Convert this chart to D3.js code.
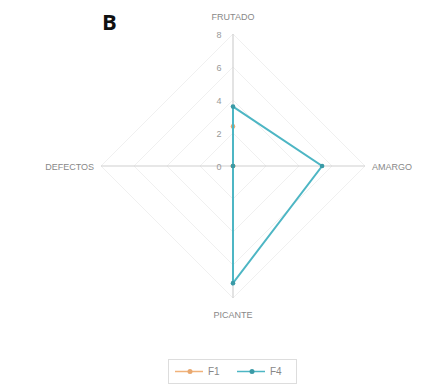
<!DOCTYPE html>
<html><head><meta charset="utf-8">
<script src="https://cdn.jsdelivr.net/npm/d3@7"></script>
<style>body{margin:0;background:#fff}svg{display:block}</style>
</head><body>
<svg id="c" width="439" height="386"></svg>
<script>
const axes = ["FRUTADO","AMARGO","PICANTE","DEFECTOS"];
const ticks = [0,2,4,6,8];
const seriesNames = ["F1","F4"];
const f1Values = [2.4,0,0,0];
const f4Values = [3.6,5.4,7.1,0];
const colors = ["#f0b27a","#4db6c4"];
const markerColors = ["#e8a870","#3a9aa6"];

const svg = d3.select("#c");
const cx = 233, cy = 166, R = 132;
const r = d3.scaleLinear().domain([0,8]).range([0,R]);
const ang = d3.scalePoint().domain(axes).range([0, 2*Math.PI*3/4]);
const pt = (a,v)=>[cx + r(v)*Math.sin(ang(a)), cy - r(v)*Math.cos(ang(a))];

// grid
ticks.slice(1).forEach(t=>{
  svg.append("path").attr("d", d3.line()(axes.map(a=>pt(a,t))) + "Z")
    .attr("fill","none").attr("stroke","#f0f0f0").attr("stroke-width",1);
});
axes.forEach(a=>{
  svg.append("line").attr("x1",cx).attr("y1",cy)
    .attr("x2",pt(a,8)[0]).attr("y2",pt(a,8)[1])
    .attr("stroke","#d0d0d0").attr("stroke-width",1.2);
});
// tick labels
ticks.forEach(t=>{
  svg.append("text").attr("x",cx-14).attr("y",cy - r(t)+3.5)
    .attr("text-anchor","middle").attr("font-family","Liberation Sans, Arial, sans-serif")
    .attr("font-size",9).attr("fill","#999").text(t);
});
// axis labels
const lab = svg.append("g").attr("font-family","Liberation Sans, Arial, sans-serif")
  .attr("font-size",9).attr("fill","#888");
lab.append("text").attr("x",cx).attr("y",20).attr("text-anchor","middle").text(axes[0]);
lab.append("text").attr("x",372).attr("y",cy+3.5).attr("text-anchor","start").text(axes[1]);
lab.append("text").attr("x",cx).attr("y",318).attr("text-anchor","middle").text(axes[2]);
lab.append("text").attr("x",94).attr("y",cy+3.5).attr("text-anchor","end").text(axes[3]);

// series
[f1Values,f4Values].forEach((vals,i)=>{
  const pts = axes.map((a,j)=>pt(a,vals[j]));
  svg.append("path").attr("d", d3.line()(pts)+"Z").attr("fill","none")
    .attr("stroke",colors[i]).attr("stroke-width",2);
  svg.selectAll(null).data(pts).enter().append("circle")
    .attr("cx",d=>d[0]).attr("cy",d=>d[1]).attr("r",2.3)
    .attr("fill", markerColors[i]);
});

// title letter
svg.append("text").attr("x",102).attr("y",30).attr("font-family","Open Sans, sans-serif")
  .attr("font-weight","bold").attr("font-size",22).attr("fill","#111").text("B");

// legend
const lg = svg.append("g");
lg.append("rect").attr("x",168.5).attr("y",359.5).attr("width",128).attr("height",24)
  .attr("fill","#fff").attr("stroke","#ddd");
seriesNames.forEach((s,i)=>{
  const x0 = 175 + i*62;
  lg.append("line").attr("x1",x0).attr("x2",x0+28).attr("y1",371.5).attr("y2",371.5)
    .attr("stroke",colors[i]).attr("stroke-width",1.5);
  lg.append("circle").attr("cx",x0+15).attr("cy",371.5).attr("r",2.5).attr("fill",markerColors[i]);
  lg.append("text").attr("x",x0+33).attr("y",375).attr("font-family","Liberation Sans, Arial, sans-serif")
    .attr("font-size",10).attr("fill","#888").text(s);
});
</script>
</body></html>
